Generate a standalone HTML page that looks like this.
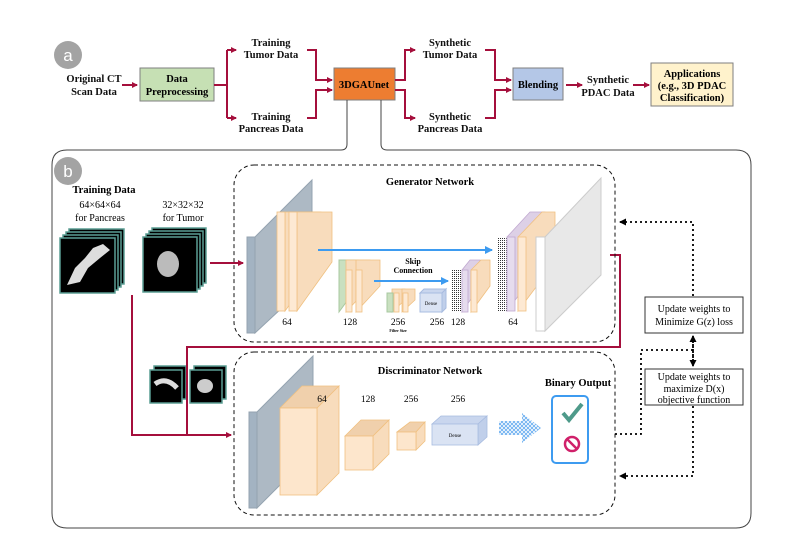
<!DOCTYPE html>
<html><head><meta charset="utf-8"><style>
body{margin:0;background:#fff}
svg{display:block}
text{font-family:"Liberation Serif",serif}
.b{font-weight:bold;font-size:10.5px}
</style></head><body>
<svg width="798" height="546" viewBox="0 0 798 546" xmlns="http://www.w3.org/2000/svg">
<defs>
<marker id="ar" markerWidth="6" markerHeight="6" refX="5" refY="3" orient="auto" markerUnits="userSpaceOnUse"><path d="M0,0 L6,3 L0,6 z" fill="#a50f3c"/></marker>
<marker id="ab" markerWidth="8" markerHeight="8" refX="7" refY="4" orient="auto" markerUnits="userSpaceOnUse"><path d="M0,0 L8,4 L0,8 z" fill="#3d9bf0"/></marker>
<marker id="ak" markerWidth="7" markerHeight="7" refX="6" refY="3.5" orient="auto" markerUnits="userSpaceOnUse"><path d="M0,0 L7,3.5 L0,7 z" fill="#000"/></marker>
<pattern id="hx" width="4" height="4" patternUnits="userSpaceOnUse"><path d="M0,0 L4,4 M4,0 L0,4" stroke="#6aaef0" stroke-width="0.9"/></pattern>
<pattern id="dt" width="2" height="2" patternUnits="userSpaceOnUse"><rect width="1" height="1" fill="#333"/></pattern>
</defs>

<!-- Panel a -->
<circle cx="68" cy="55" r="14" fill="#a3a3a3"/>
<text x="68" y="61" font-family="Liberation Sans" font-size="17" fill="#fff" text-anchor="middle" style="font-family:'Liberation Sans',sans-serif">a</text>
<g class="b" text-anchor="middle" fill="#111">
<text x="94" y="82" class="b">Original CT</text><text x="94" y="95" class="b">Scan Data</text>
<text x="271" y="46" class="b">Training</text><text x="271" y="58" class="b">Tumor Data</text>
<text x="271" y="120" class="b">Training</text><text x="271" y="132" class="b">Pancreas Data</text>
<text x="450" y="46" class="b">Synthetic</text><text x="450" y="58" class="b">Tumor Data</text>
<text x="450" y="120" class="b">Synthetic</text><text x="450" y="132" class="b">Pancreas Data</text>
<text x="608" y="83" class="b">Synthetic</text><text x="608" y="96" class="b">PDAC Data</text>
</g>
<rect x="140" y="68" width="74" height="33" fill="#c6e0b4" stroke="#7f7f7f"/>
<text x="177" y="82" class="b" text-anchor="middle">Data</text><text x="177" y="95" class="b" text-anchor="middle">Preprocessing</text>
<rect x="334" y="68" width="61" height="32" fill="#ed7d31" stroke="#7f7f7f"/>
<text x="364" y="88" class="b" text-anchor="middle">3DGAUnet</text>
<rect x="513" y="68" width="50" height="32" fill="#b4c7e7" stroke="#7f7f7f"/>
<text x="538" y="88" class="b" text-anchor="middle">Blending</text>
<rect x="651" y="63" width="82" height="43" fill="#fff2cc" stroke="#7f7f7f"/>
<text x="692" y="77" class="b" text-anchor="middle">Applications</text><text x="692" y="89" class="b" text-anchor="middle">(e.g., 3D PDAC</text><text x="692" y="101" class="b" text-anchor="middle">Classification)</text>
<g stroke="#a50f3c" stroke-width="2" fill="none">
<path d="M122,85 H137" marker-end="url(#ar)"/>
<path d="M214,85 H227"/><path d="M227,50 V118"/>
<path d="M227,50 H236" marker-end="url(#ar)"/><path d="M227,118 H236" marker-end="url(#ar)"/>
<path d="M307,50 H316 V80 H332" marker-end="url(#ar)"/><path d="M307,118 H316 V90 H332" marker-end="url(#ar)"/>
<path d="M395,80 H405 V50 H415" marker-end="url(#ar)"/><path d="M395,90 H405 V118 H415" marker-end="url(#ar)"/>
<path d="M485,50 H495 V80 H511" marker-end="url(#ar)"/><path d="M485,118 H495 V90 H511" marker-end="url(#ar)"/>
<path d="M566,85 H582" marker-end="url(#ar)"/><path d="M633,85 H649" marker-end="url(#ar)"/>
</g>

<!-- Panel b border -->
<path d="M347,100 V144 Q347,150 341,150 H67 Q52,150 52,165 V513 Q52,528 67,528 H736 Q751,528 751,513 V165 Q751,150 736,150 H387 Q381,150 381,144 V100" fill="none" stroke="#444" stroke-width="1"/>
<circle cx="68" cy="171" r="14" fill="#a3a3a3"/>
<text x="68" y="177" font-size="17" fill="#fff" text-anchor="middle" style="font-family:'Liberation Sans',sans-serif">b</text>

<text x="104" y="193" class="b" text-anchor="middle">Training Data</text>
<g font-size="10" text-anchor="middle"><text x="100" y="208">64×64×64</text><text x="100" y="221">for Pancreas</text><text x="183" y="208">32×32×32</text><text x="183" y="221">for Tumor</text></g>

<!-- stacks -->
<g stroke="#5a9e94" stroke-width="1.5" fill="#000">
<rect x="69" y="229" width="55" height="55"/><rect x="66" y="232" width="55" height="55"/><rect x="63" y="235" width="55" height="55"/><rect x="60" y="238" width="55" height="55"/>
<rect x="152" y="228" width="54" height="55"/><rect x="149" y="231" width="54" height="55"/><rect x="146" y="234" width="54" height="55"/><rect x="143" y="237" width="54" height="55"/>
</g>
<path d="M67,285 L75,268 L85,258 L93,248 L103,244 L110,250 L100,258 L88,268 L80,282 Z" fill="#ddd"/>
<ellipse cx="168" cy="264" rx="11" ry="13" fill="#bbb"/>
<g stroke="#5a9e94" stroke-width="1.5" fill="#000">
<rect x="154" y="366" width="32" height="33"/><rect x="150" y="370" width="32" height="33"/>
<rect x="194" y="366" width="32" height="33"/><rect x="190" y="370" width="32" height="33"/>
</g>
<path d="M155,384 Q166,376 177,388" stroke="#ddd" stroke-width="5" fill="none"/>
<ellipse cx="205" cy="386" rx="8" ry="7" fill="#ccc"/>

<!-- red connections in b -->
<g stroke="#a50f3c" stroke-width="2" fill="none">
<path d="M210,263 H243" marker-end="url(#ar)"/>
<path d="M132,295 V435 H231" marker-end="url(#ar)"/>
<path d="M610,255 H620 V347 H187 V435"/>
</g>

<!-- dashed boxes -->
<rect x="234" y="165" width="381" height="177" rx="20" fill="none" stroke="#111" stroke-dasharray="4,3"/>
<rect x="234" y="352" width="381" height="163" rx="20" fill="none" stroke="#111" stroke-dasharray="4,3"/>
<text x="430" y="185" class="b" text-anchor="middle">Generator Network</text>
<text x="430" y="374" class="b" text-anchor="middle">Discriminator Network</text>

<!-- generator layers -->
<polygon points="255,237 312,180 312,280 255,333" fill="#adb9c4" stroke="#94a3b0"/>
<rect x="247" y="237" width="8" height="96" fill="#a3b3c2" stroke="#94a3b0"/>
<g fill="#f8dcbc" stroke="#f0c080" stroke-width="0.8">
<polygon points="285,212 321,212 321,262 285,311"/><rect x="277" y="212" width="8" height="99" fill="#fde9d3"/>
<polygon points="297,212 332,212 332,262 297,311"/><rect x="289" y="212" width="8" height="99" fill="#fde9d3"/>
</g>
<polygon points="339,260 358,260 358,286 339,312" fill="#c9e0c0" stroke="#a8c8a0"/>
<g fill="#f8dcbc" stroke="#f0c080" stroke-width="0.8">
<polygon points="346,260 370,260 370,286 346,312"/><rect x="346" y="270" width="6" height="42" fill="#fde9d3"/>
<polygon points="356,260 380,260 380,286 356,312"/><rect x="356" y="270" width="6" height="42" fill="#fde9d3"/>
<polygon points="392,289 405,289 405,300 392,312"/><rect x="394" y="293" width="5" height="19" fill="#fde9d3"/>
<polygon points="402,289 415,289 415,300 402,312"/><rect x="403" y="293" width="5" height="19" fill="#fde9d3"/>
</g>
<rect x="387" y="293" width="6" height="19" fill="#c9e0c0" stroke="#a8c8a0"/>
<rect x="420" y="293" width="22" height="19" fill="#dae3f3" stroke="#a8bce0"/>
<polygon points="420,293 424,289 446,289 442,293" fill="#c9d6ee" stroke="#a8bce0"/>
<polygon points="442,293 446,289 446,308 442,312" fill="#c0cfea" stroke="#a8bce0"/>
<text x="431" y="305" font-size="5" text-anchor="middle">Dense</text>
<rect x="452" y="270" width="10" height="42" fill="url(#dt)"/>
<g stroke-width="0.8">
<polygon points="462,270 470,260 480,260 480,286 462,312" fill="#ddd0e6" stroke="#c0a8d0"/>
<rect x="462" y="270" width="6" height="42" fill="#e6dcee" stroke="#c0a8d0"/>
<polygon points="471,270 481,260 490,260 490,286 471,312" fill="#f8dcbc" stroke="#f0c080"/>
<rect x="471" y="270" width="6" height="42" fill="#fde9d3" stroke="#f0c080"/>
<rect x="497" y="237" width="10" height="75" fill="url(#dt)"/>
<polygon points="507,237 530,212 545,212 545,260 507,311" fill="#ddd0e6" stroke="#c0a8d0"/>
<rect x="507" y="237" width="8" height="74" fill="#e6dcee" stroke="#c0a8d0"/>
<polygon points="518,237 542,212 555,212 555,262 518,311" fill="#f8dcbc" stroke="#f0c080"/>
<rect x="518" y="237" width="8" height="74" fill="#fde9d3" stroke="#f0c080"/>
</g>
<polygon points="545,237 601,178 601,275 545,331" fill="#e8e8e8" stroke="#ccc"/>
<rect x="536" y="237" width="9" height="94" fill="#fff" stroke="#ccc"/>
<path d="M318,250 H492" stroke="#3d9bf0" stroke-width="2" marker-end="url(#ab)"/>
<path d="M374,281 H448" stroke="#3d9bf0" stroke-width="2" marker-end="url(#ab)"/>
<text x="413" y="264" font-size="8" font-weight="bold" text-anchor="middle">Skip</text>
<text x="413" y="273" font-size="8" font-weight="bold" text-anchor="middle">Connection</text>
<g font-size="9.5" text-anchor="middle"><text x="287" y="325">64</text><text x="350" y="325">128</text><text x="398" y="325">256</text><text x="437" y="325">256</text><text x="458" y="325">128</text><text x="513" y="325">64</text></g>
<text x="398" y="332" font-size="4" font-weight="bold" text-anchor="middle">Filter Size</text>

<!-- discriminator layers -->
<polygon points="257,412 313,356 313,452 257,508" fill="#adb9c4" stroke="#94a3b0"/>
<rect x="249" y="412" width="8" height="96" fill="#a3b3c2" stroke="#94a3b0"/>
<g stroke="#f0c080" stroke-width="0.8">
<polygon points="280,408 302,386 339,386 317,408" fill="#f0d0ac"/><polygon points="317,408 339,386 339,473 317,495" fill="#f8dcbc"/><rect x="280" y="408" width="37" height="87" fill="#fde6cc"/>
<polygon points="345,436 361,420 389,420 373,436" fill="#f0d0ac"/><polygon points="373,436 389,420 389,454 373,470" fill="#f8dcbc"/><rect x="345" y="436" width="28" height="34" fill="#fde6cc"/>
<polygon points="397,432 410,422 425,422 416,432" fill="#f0d0ac"/><polygon points="416,432 425,422 425,441 416,450" fill="#f8dcbc"/><rect x="397" y="432" width="19" height="18" fill="#fde6cc"/>
</g>
<g stroke="#a8bce0" stroke-width="0.8"><polygon points="432,424 441,416 487,416 478,424" fill="#c9d6ee"/><polygon points="478,424 487,416 487,437 478,445" fill="#c0cfea"/><rect x="432" y="424" width="46" height="21" fill="#dae3f3"/></g>
<text x="455" y="437" font-size="5" text-anchor="middle">Dense</text>
<polygon points="499,421 522,421 522,413 541,428 522,443 522,435 499,435" fill="url(#hx)"/>
<g font-size="9.5" text-anchor="middle"><text x="322" y="402">64</text><text x="368" y="402">128</text><text x="411" y="402">256</text><text x="458" y="402">256</text></g>
<text x="578" y="386" class="b" text-anchor="middle">Binary Output</text>
<rect x="552" y="396" width="36" height="67" rx="4" fill="#fff" stroke="#3d9bf0" stroke-width="2"/>
<path d="M563,413 L569,420 L582,404" stroke="#4e9a8a" stroke-width="4" fill="none"/>
<circle cx="572" cy="444" r="7" fill="none" stroke="#d0206a" stroke-width="2.5"/>
<path d="M567,439 L577,449" stroke="#d0206a" stroke-width="2.5"/>

<!-- dotted feedback -->
<g stroke="#000" stroke-width="1.8" stroke-dasharray="2,3" fill="none">
<path d="M693,296 V222 H620" marker-end="url(#ak)"/>
<path d="M693,336 V366" marker-end="url(#ak)"/>
<path d="M693,366 V336" marker-end="url(#ak)"/>
<path d="M693,350 H641 V434 H614"/>
<path d="M693,406 V476 H620" marker-end="url(#ak)"/>
</g>
<rect x="645" y="297" width="98" height="36" fill="#fff" stroke="#333"/>
<text x="694" y="312" font-size="10" text-anchor="middle">Update weights to</text><text x="694" y="325" font-size="10" text-anchor="middle">Minimize G(z) loss</text>
<rect x="645" y="369" width="98" height="36" fill="#fff" stroke="#333"/>
<text x="694" y="380" font-size="10" text-anchor="middle">Update weights to</text><text x="694" y="392" font-size="10" text-anchor="middle">maximize D(x)</text><text x="694" y="403" font-size="10" text-anchor="middle">objective function</text>
</svg>
</body></html>
